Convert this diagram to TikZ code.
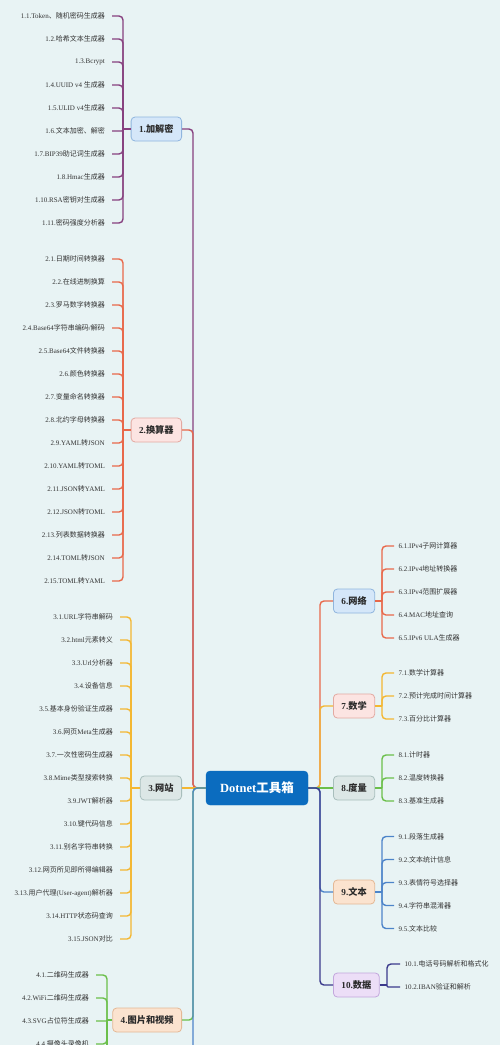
\documentclass[tikz,border=0pt]{standalone}
\usepackage{fontspec}
\setmainfont{Liberation Serif}
\newfontfamily\cjk{Noto Sans CJK SC}
\XeTeXinterchartokenstate=1
\chardef\mycjkclass=9
\count255="3000
\loop \XeTeXcharclass\count255=\mycjkclass \advance\count255 by 1 \ifnum\count255<"A000 \repeat
\count255="FF00
\loop \XeTeXcharclass\count255=\mycjkclass \advance\count255 by 1 \ifnum\count255<"FFF0 \repeat
\XeTeXinterchartoks 0 \mycjkclass = {\cjk}
\XeTeXinterchartoks 4095 \mycjkclass = {\cjk}
\XeTeXinterchartoks \mycjkclass 0 = {\rmfamily}
\XeTeXinterchartoks \mycjkclass 4095 = {\rmfamily}
\definecolor{bgc}{HTML}{E8F3F4}
\definecolor{leafc}{HTML}{333333}
\definecolor{txtc}{HTML}{2A2A2A}
\definecolor{rootc}{HTML}{0B6CBF}
\definecolor{cpur}{HTML}{87407F}
\definecolor{cred}{HTML}{E8684A}
\definecolor{cyel}{HTML}{F4B731}
\definecolor{cgrn}{HTML}{6BBF4A}
\definecolor{cblu}{HTML}{4D84C9}
\definecolor{cnav}{HTML}{3B3A8C}
\definecolor{fblu}{HTML}{D5E7F9}\definecolor{dblu}{HTML}{8FB5DE}
\definecolor{fpnk}{HTML}{FCE4E2}\definecolor{dpnk}{HTML}{E3A9A1}
\definecolor{fgry}{HTML}{DCE7E6}\definecolor{dgry}{HTML}{A8BEBC}
\definecolor{fpch}{HTML}{FBE3CF}\definecolor{dpch}{HTML}{E4B895}
\definecolor{flav}{HTML}{ECDEF7}\definecolor{dlav}{HTML}{C3A7DD}
% leaf connector from bracket point (#1, at box y #2) to leaf anchor #3 at y #4
\newcommand\myleaflink[5]{%
  \pgfmathsetmacro\rr{max(0.05,min(4,abs(#4-#2)/2))}%
  \draw[line width=1.4pt, #5, rounded corners=\rr pt] (#1) |- (#3);}
\begin{document}
\begin{tikzpicture}[x=1pt,y=-1pt,
  leafL/.style={anchor=east, inner xsep=7pt, inner ysep=1pt, text=leafc, font=\fontsize{7}{8}\selectfont},
  leafR/.style={anchor=west, inner xsep=4.5pt, inner ysep=1pt, text=leafc, font=\fontsize{7}{8}\selectfont},
  branch/.style={draw, rounded corners=4pt, minimum height=24pt, inner xsep=8pt, line width=0.8pt, text=txtc, font=\bfseries\fontsize{9.2}{10}\selectfont},
  brL/.style={branch, anchor=east},
  brR/.style={branch, anchor=west},
  lnk/.style={line width=1.4pt, rounded corners=4pt}]
\fill[bgc] (0,0) rectangle (500,1045);
\clip (0,0) rectangle (500,1045);
\coordinate (tl) at (193,788);
\coordinate (tr) at (320,788);
\node[draw=rootc, fill=rootc, rounded corners=4pt, minimum width=102pt, minimum height=34pt, text=white, font=\bfseries\fontsize{12.5}{14}\selectfont] (root) at (257,788) {Dotnet工具箱};
% left branches
\node[brL, fill=fblu, draw=dblu] (b1) at (182,129) {1.加解密};
\node[brL, fill=fpnk, draw=dpnk] (b2) at (182,430) {2.换算器};
\node[brL, fill=fgry, draw=dgry] (b3) at (182,788) {3.网站};
\node[brL, fill=fpch, draw=dpch] (b4) at (182,1020) {4.图片和视频};
% right branches
\node[brR, fill=fblu, draw=dblu] (b6) at (333,601) {6.网络};
\node[brR, fill=fpnk, draw=dpnk] (b7) at (333,706) {7.数学};
\node[brR, fill=fgry, draw=dgry] (b8) at (333,788) {8.度量};
\node[brR, fill=fpch, draw=dpch] (b9) at (333,892) {9.文本};
\node[brR, fill=flav, draw=dlav] (b10) at (333,985) {10.数据};
% bracket points
\coordinate (k1) at (123,129);
\coordinate (k2) at (123,430);
\coordinate (k3) at (131,788);
\coordinate (k4) at (107,1020);
\coordinate (k6) at (382,601);
\coordinate (k7) at (382,706);
\coordinate (k8) at (382,788);
\coordinate (k9) at (382,892);
\coordinate (k10) at (387,985);
% trunks
\draw[lnk, cpur] (root.west) -- (tl) |- (b1.east);
\draw[lnk, cred] (root.west) -- (tl) |- (b2.east);
\draw[lnk, cyel] (root.west) -- (b3.east);
\draw[lnk, cgrn] (root.west) -- (tl) |- (b4.east);
\coordinate (b5end) at (193,1060);
\draw[lnk, cblu] (root.west) -- (tl) -- (b5end);
\draw[lnk, cred] (root.east) -- (tr) |- (b6.west);
\draw[lnk, cyel] (root.east) -- (tr) |- (b7.west);
\draw[lnk, cgrn] (root.east) -- (b8.west);
\draw[lnk, cblu] (root.east) -- (tr) |- (b9.west);
\draw[lnk, cnav] (root.east) -- (tr) |- (b10.west);
% box to bracket
\draw[lnk, cpur] (b1.west) -- (k1);
\draw[lnk, cred] (b2.west) -- (k2);
\draw[lnk, cyel] (b3.west) -- (k3);
\draw[lnk, cgrn] (b4.west) -- (k4);
\draw[lnk, cred] (b6.east) -- (k6);
\draw[lnk, cyel] (b7.east) -- (k7);
\draw[lnk, cgrn] (b8.east) -- (k8);
\draw[lnk, cblu] (b9.east) -- (k9);
\draw[lnk, cnav] (b10.east) -- (k10);
% leaves 1
\foreach \t [count=\i] in {{1.1.Token、随机密码生成器},{1.2.哈希文本生成器},{1.3.Bcrypt},{1.4.UUID v4 生成器},{1.5.ULID v4生成器},{1.6.文本加密、解密},{1.7.BIP39助记词生成器},{1.8.Hmac生成器},{1.10.RSA密钥对生成器},{1.11.密码强度分析器}}{
  \pgfmathsetmacro\yy{16+23*(\i-1)}
  \node[leafL] (a\i) at (112,\yy) {\t};
  \myleaflink{k1}{129}{a\i.east}{\yy}{cpur}
}
% leaves 2
\foreach \t [count=\i] in {{2.1.日期时间转换器},{2.2.在线进制换算},{2.3.罗马数字转换器},{2.4.Base64字符串编码/解码},{2.5.Base64文件转换器},{2.6.颜色转换器},{2.7.变量命名转换器},{2.8.北约字母转换器},{2.9.YAML转JSON},{2.10.YAML转TOML},{2.11.JSON转YAML},{2.12.JSON转TOML},{2.13.列表数据转换器},{2.14.TOML转JSON},{2.15.TOML转YAML}}{
  \pgfmathsetmacro\yy{259+23*(\i-1)}
  \node[leafL] (c\i) at (112,\yy) {\t};
  \myleaflink{k2}{430}{c\i.east}{\yy}{cred}
}
% leaves 3
\foreach \t [count=\i] in {{3.1.URL字符串解码},{3.2.html元素转义},{3.3.Url分析器},{3.4.设备信息},{3.5.基本身份验证生成器},{3.6.网页Meta生成器},{3.7.一次性密码生成器},{3.8.Mime类型搜索转换},{3.9.JWT解析器},{3.10.键代码信息},{3.11.别名字符串转换},{3.12.网页所见即所得编辑器},{3.13.用户代理(User-agent)解析器},{3.14.HTTP状态码查询},{3.15.JSON对比}}{
  \pgfmathsetmacro\yy{617+23*(\i-1)}
  \node[leafL] (d\i) at (120,\yy) {\t};
  \myleaflink{k3}{788}{d\i.east}{\yy}{cyel}
}
% leaves 4
\foreach \t [count=\i] in {{4.1.二维码生成器},{4.2.WiFi二维码生成器},{4.3.SVG占位符生成器},{4.4.摄像头录像机}}{
  \pgfmathsetmacro\yy{975+23*(\i-1)}
  \node[leafL] (e\i) at (96,\yy) {\t};
  \myleaflink{k4}{1020}{e\i.east}{\yy}{cgrn}
}
\coordinate (e4more) at (107,1060);
\draw[lnk, cgrn] (k4) -- (e4more);
% leaves 6
\foreach \t [count=\i] in {{6.1.IPv4子网计算器},{6.2.IPv4地址转换器},{6.3.IPv4范围扩展器},{6.4.MAC地址查询},{6.5.IPv6 ULA生成器}}{
  \pgfmathsetmacro\yy{546+23*(\i-1)}
  \node[leafR] (f\i) at (394,\yy) {\t};
  \myleaflink{k6}{601}{f\i.west}{\yy}{cred}
}
% leaves 7
\foreach \t [count=\i] in {{7.1.数学计算器},{7.2.预计完成时间计算器},{7.3.百分比计算器}}{
  \pgfmathsetmacro\yy{673+23*(\i-1)}
  \node[leafR] (g\i) at (394,\yy) {\t};
  \myleaflink{k7}{706}{g\i.west}{\yy}{cyel}
}
% leaves 8
\foreach \t [count=\i] in {{8.1.计时器},{8.2.温度转换器},{8.3.基准生成器}}{
  \pgfmathsetmacro\yy{755+23*(\i-1)}
  \node[leafR] (h\i) at (394,\yy) {\t};
  \myleaflink{k8}{788}{h\i.west}{\yy}{cgrn}
}
% leaves 9
\foreach \t [count=\i] in {{9.1.段落生成器},{9.2.文本统计信息},{9.3.表情符号选择器},{9.4.字符串混淆器},{9.5.文本比较}}{
  \pgfmathsetmacro\yy{836.5+23*(\i-1)}
  \node[leafR] (q\i) at (394,\yy) {\t};
  \myleaflink{k9}{892}{q\i.west}{\yy}{cblu}
}
% leaves 10
\foreach \t [count=\i] in {{10.1.电话号码解析和格式化},{10.2.IBAN验证和解析}}{
  \pgfmathsetmacro\yy{964+23*(\i-1)}
  \node[leafR] (m\i) at (400,\yy) {\t};
  \myleaflink{k10}{985}{m\i.west}{\yy}{cnav}
}
\end{tikzpicture}
\end{document}
